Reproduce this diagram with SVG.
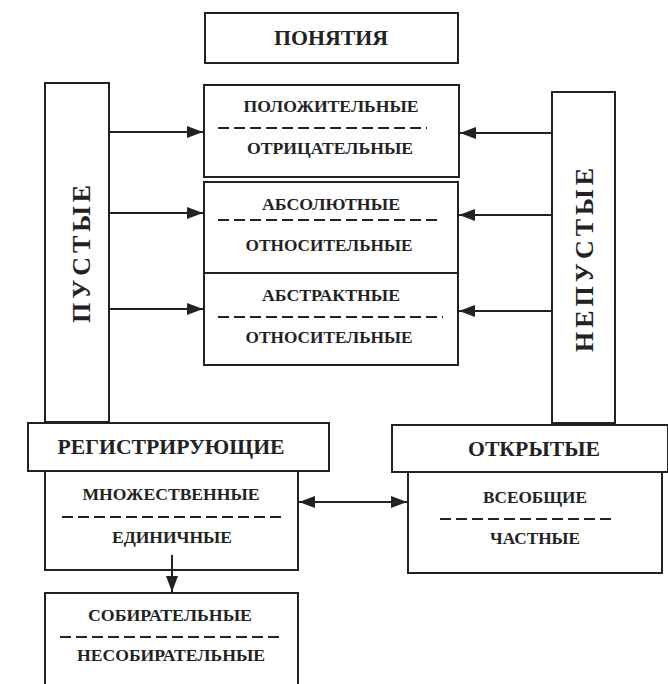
<svg xmlns="http://www.w3.org/2000/svg" width="668" height="684" viewBox="0 0 668 684">
<defs>
<marker id="ah" viewBox="0 0 16 12" refX="16" refY="6" markerWidth="16" markerHeight="12" markerUnits="userSpaceOnUse" orient="auto-start-reverse">
<path d="M0,0 L16,6 L0,12 Z" fill="#222"/>
</marker>
<style>
.b{fill:#fff;stroke:#222;stroke-width:2}
.t{font-family:"Liberation Serif","DejaVu Serif",serif;font-weight:bold;fill:#222;text-anchor:middle}
.s{font-size:16.5px}
.h{font-size:20px}
.v{font-size:26px}
.d{stroke:#222;stroke-width:2;stroke-dasharray:11 5;fill:none}
.c{stroke:#222;stroke-width:2;fill:none}
</style>
</defs>
<rect width="668" height="684" fill="#fff"/>

<g id="ponyatiya">
<rect class="b" x="205" y="13" width="253" height="50"/>
<text class="t h" x="331" y="45" textLength="114" lengthAdjust="spacingAndGlyphs">ПОНЯТИЯ</text>
</g>

<g id="pustye">
<rect class="b" x="45" y="83" width="64" height="339"/>
<text class="t v" transform="translate(90,254) rotate(-90)" textLength="138" lengthAdjust="spacing">ПУСТЫЕ</text>
</g>

<g id="nepustye">
<rect class="b" x="552" y="92" width="63" height="331"/>
<text class="t v" transform="translate(593,260) rotate(-90)" textLength="184" lengthAdjust="spacing">НЕПУСТЫЕ</text>
</g>

<g id="polozhitelnye">
<rect class="b" x="204" y="85" width="255" height="92"/>
<text class="t s" x="331" y="112" textLength="175" lengthAdjust="spacingAndGlyphs">ПОЛОЖИТЕЛЬНЫЕ</text>
<line class="d" x1="218" y1="128" x2="427" y2="128"/>
<text class="t s" x="330" y="154" textLength="166" lengthAdjust="spacingAndGlyphs">ОТРИЦАТЕЛЬНЫЕ</text>
</g>

<g id="absolyutnye">
<rect class="b" x="204" y="182" width="254" height="91"/>
<text class="t s" x="331" y="210" textLength="138" lengthAdjust="spacingAndGlyphs">АБСОЛЮТНЫЕ</text>
<line class="d" x1="218" y1="220" x2="442" y2="220"/>
<text class="t s" x="329" y="251" textLength="167" lengthAdjust="spacingAndGlyphs">ОТНОСИТЕЛЬНЫЕ</text>
</g>

<g id="abstraktnye">
<rect class="b" x="204" y="273" width="254" height="92"/>
<text class="t s" x="331" y="301" textLength="138" lengthAdjust="spacingAndGlyphs">АБСТРАКТНЫЕ</text>
<line class="d" x1="218" y1="317" x2="443" y2="317"/>
<text class="t s" x="329" y="343" textLength="167" lengthAdjust="spacingAndGlyphs">ОТНОСИТЕЛЬНЫЕ</text>
</g>

<g id="registriruyushchie">
<rect class="b" x="28" y="423" width="301" height="48"/>
<text class="t h" x="171" y="454" textLength="227" lengthAdjust="spacingAndGlyphs">РЕГИСТРИРУЮЩИЕ</text>
</g>

<g id="mnozhestvennye">
<rect class="b" x="45" y="471" width="253" height="99"/>
<text class="t s" x="171" y="500" textLength="177" lengthAdjust="spacingAndGlyphs">МНОЖЕСТВЕННЫЕ</text>
<line class="d" x1="62" y1="517" x2="282" y2="517"/>
<text class="t s" x="172" y="543" textLength="120" lengthAdjust="spacingAndGlyphs">ЕДИНИЧНЫЕ</text>
</g>

<g id="otkrytye">
<rect class="b" x="392" y="425" width="276" height="47"/>
<text class="t h" x="534" y="456" textLength="132" lengthAdjust="spacingAndGlyphs">ОТКРЫТЫЕ</text>
</g>

<g id="vseobshchie">
<rect class="b" x="408" y="472" width="254" height="101"/>
<text class="t s" x="535" y="503" textLength="104" lengthAdjust="spacingAndGlyphs">ВСЕОБЩИЕ</text>
<line class="d" x1="440" y1="519" x2="613" y2="519"/>
<text class="t s" x="535" y="544" textLength="90" lengthAdjust="spacingAndGlyphs">ЧАСТНЫЕ</text>
</g>

<g id="sobiratelnye">
<rect class="b" x="45" y="593" width="253" height="100"/>
<text class="t s" x="170" y="621" textLength="164" lengthAdjust="spacingAndGlyphs">СОБИРАТЕЛЬНЫЕ</text>
<line class="d" x1="60" y1="637" x2="282" y2="637"/>
<text class="t s" x="171" y="661" textLength="188" lengthAdjust="spacingAndGlyphs">НЕСОБИРАТЕЛЬНЫЕ</text>
</g>

<g id="connectors">
<line class="c" x1="109" y1="132" x2="203" y2="132" marker-end="url(#ah)"/>
<line class="c" x1="109" y1="213" x2="203" y2="213" marker-end="url(#ah)"/>
<line class="c" x1="109" y1="309" x2="203" y2="309" marker-end="url(#ah)"/>
<line class="c" x1="552" y1="133" x2="460" y2="133" marker-end="url(#ah)"/>
<line class="c" x1="552" y1="215" x2="459" y2="215" marker-end="url(#ah)"/>
<line class="c" x1="552" y1="311" x2="459" y2="311" marker-end="url(#ah)"/>
<line class="c" x1="299" y1="502" x2="407" y2="502" marker-start="url(#ah)" marker-end="url(#ah)"/>
<line class="c" x1="172" y1="555" x2="172" y2="592" marker-end="url(#ah)"/>
</g>
</svg>
